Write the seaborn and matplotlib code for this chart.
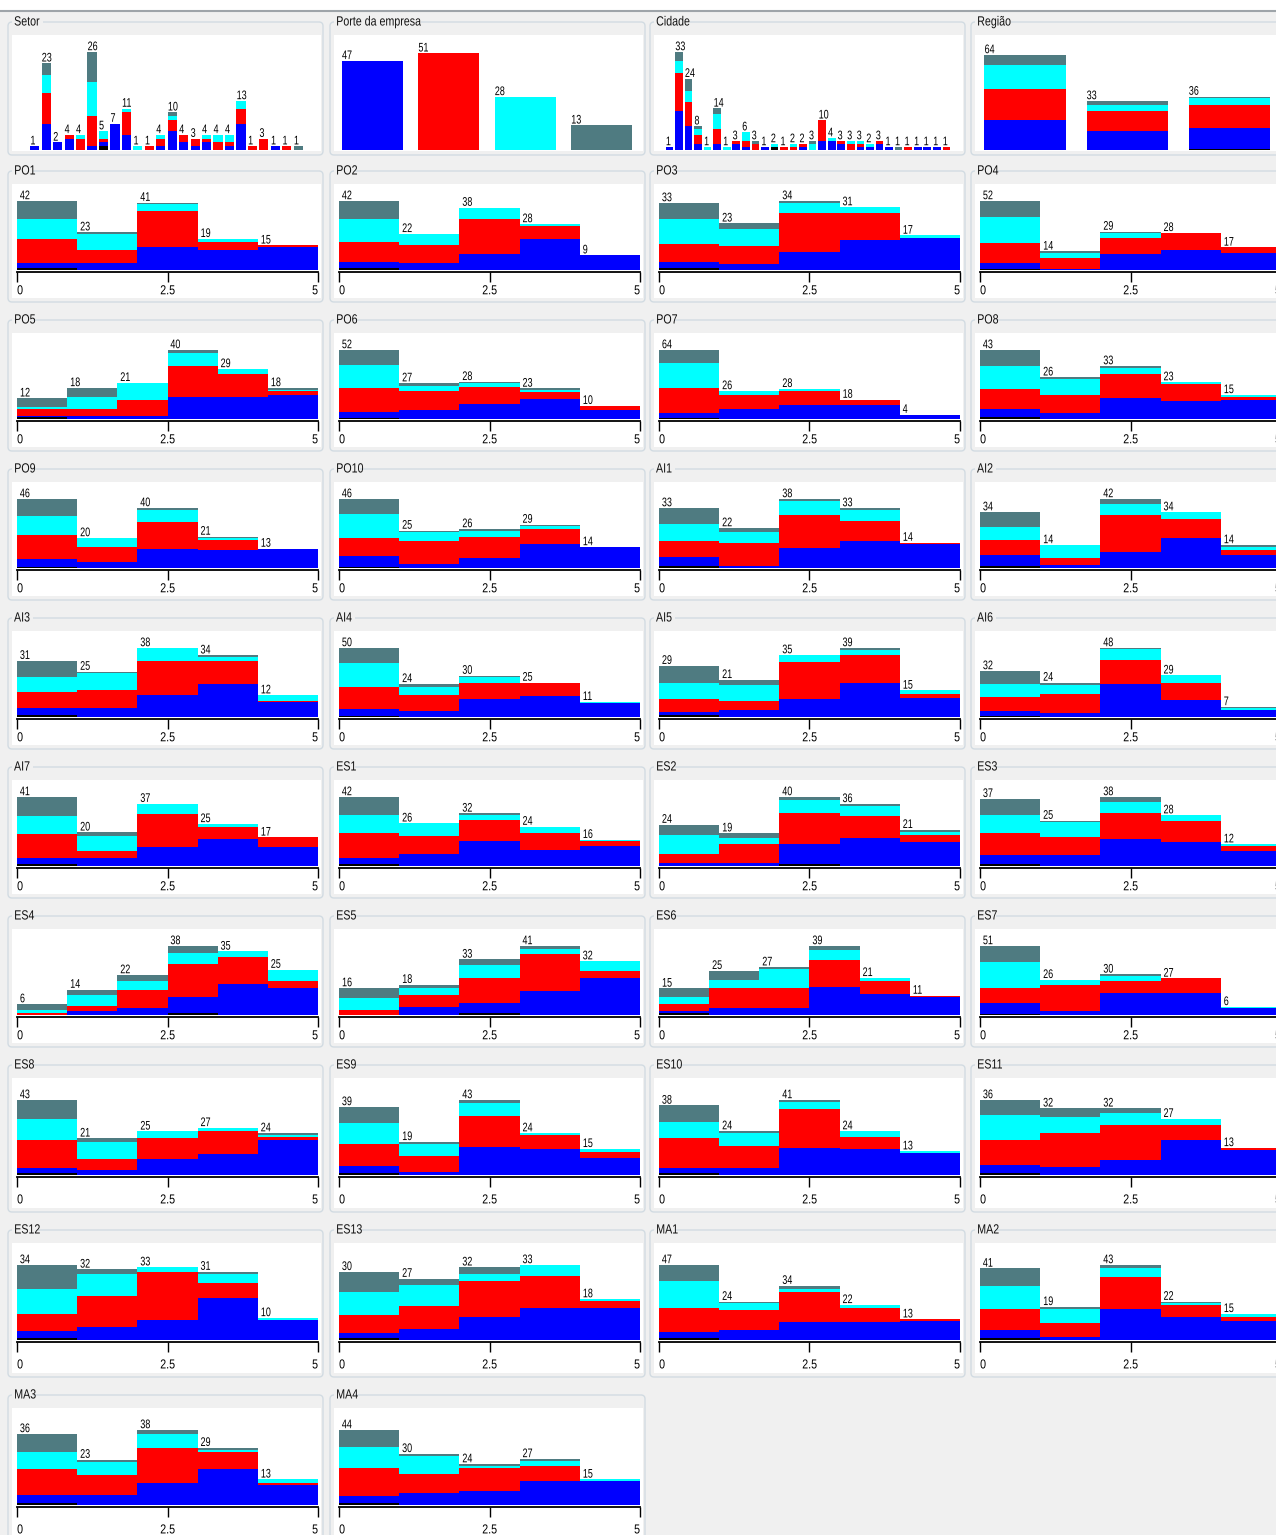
import numpy as np
import pandas as pd
import matplotlib
matplotlib.use("Agg")
import matplotlib.pyplot as plt
from matplotlib.patches import FancyBboxPatch, Rectangle
from matplotlib.patheffects import AbstractPathEffect
from matplotlib.transforms import Affine2D
import seaborn as sns

# ---------------------------------------------------------------------------
# Counts per bar, split by "Porte da empresa" class:
#   (blue, red, cyan, gray, black)   black = missing class
# ---------------------------------------------------------------------------
SETOR = [(1, 0, 0, 0, 0), (7, 8, 5, 3, 0), (2, 0, 0, 0, 0), (3, 1, 0, 0, 0),
         (0, 3, 1, 0, 0), (1, 8, 9, 8, 0), (1, 1, 2, 0, 1), (7, 0, 0, 0, 0),
         (4, 6, 1, 0, 0), (0, 0, 1, 0, 0), (0, 1, 0, 0, 0), (1, 2, 1, 0, 0),
         (5, 3, 1, 1, 0), (2, 2, 0, 0, 0), (1, 2, 0, 0, 0), (2, 1, 1, 0, 0),
         (0, 2, 2, 0, 0), (1, 1, 2, 0, 0), (7, 4, 2, 0, 0), (0, 1, 0, 0, 0),
         (0, 3, 0, 0, 0), (1, 0, 0, 0, 0), (0, 1, 0, 0, 0), (0, 0, 0, 1, 0)]
PORTE = [(47, 0, 0, 0, 0), (0, 51, 0, 0, 0), (0, 0, 28, 0, 0), (0, 0, 0, 13, 0)]
CIDADE = [(1, 0, 0, 0, 0), (13, 13, 4, 3, 0), (8, 8, 4, 4, 0), (2, 3, 2, 1, 0),
          (0, 0, 1, 0, 0), (2, 5, 5, 2, 0), (0, 0, 1, 0, 0), (2, 1, 0, 0, 0),
          (1, 2, 3, 0, 0), (0, 2, 0, 1, 0), (1, 0, 0, 0, 0), (0, 0, 1, 0, 1),
          (0, 1, 0, 0, 0), (0, 1, 1, 0, 0), (1, 1, 0, 0, 0), (0, 0, 2, 1, 0),
          (3, 7, 0, 0, 0), (3, 0, 1, 0, 0), (2, 1, 0, 0, 0), (0, 2, 1, 0, 0),
          (1, 1, 1, 0, 0), (1, 0, 1, 0, 0), (2, 1, 0, 0, 0), (1, 0, 0, 0, 0),
          (0, 0, 0, 1, 0), (0, 1, 0, 0, 0), (1, 0, 0, 0, 0), (1, 0, 0, 0, 0),
          (1, 0, 0, 0, 0), (0, 1, 0, 0, 0)]
REGIAO = [(20, 21, 16, 7, 0), (13, 13, 4, 3, 0), (14, 15, 5, 1, 1)]

PO1 = [(3, 15, 12, 11, 1), (4, 8, 10, 1, 0), (14, 22, 4, 1, 0), (12, 5, 2, 0, 0), (14, 1, 0, 0, 0)]
PO2 = [(4, 12, 14, 11, 1), (4, 11, 7, 0, 0), (10, 21, 7, 0, 0), (19, 8, 1, 0, 0), (9, 0, 0, 0, 0)]
PO3 = [(3, 9, 12, 8, 1), (3, 9, 8, 3, 0), (9, 19, 5, 1, 0), (15, 13, 3, 0, 0), (16, 0, 1, 0, 0)]
PO4 = [(4, 15, 20, 12, 1), (1, 8, 4, 1, 0), (12, 12, 4, 1, 0), (15, 13, 0, 0, 0), (13, 4, 0, 0, 0)]
PO5 = [(1, 4, 1, 5, 1), (2, 4, 7, 5, 0), (2, 9, 10, 0, 0), (13, 18, 7, 2, 0), (13, 13, 3, 0, 0), (14, 2, 1, 1, 0)]
PO6 = [(4, 18, 18, 11, 1), (7, 14, 4, 2, 0), (11, 13, 3, 1, 0), (15, 5, 2, 1, 0), (7, 3, 0, 0, 0)]
PO7 = [(5, 23, 23, 12, 1), (9, 13, 4, 0, 0), (13, 13, 2, 0, 0), (13, 5, 0, 0, 0), (4, 0, 0, 0, 0)]
PO8 = [(5, 13, 14, 10, 1), (4, 11, 10, 1, 0), (13, 15, 4, 1, 0), (11, 11, 1, 0, 0), (12, 2, 1, 0, 0)]
PO9 = [(5, 16, 13, 11, 1), (4, 10, 6, 0, 0), (13, 18, 8, 1, 0), (12, 7, 1, 1, 0), (13, 0, 0, 0, 0)]
PO10 = [(7, 12, 16, 10, 1), (3, 15, 6, 1, 0), (7, 14, 4, 1, 0), (16, 10, 2, 1, 0), (14, 0, 0, 0, 0)]
AI1 = [(5, 9, 9, 9, 1), (1, 13, 6, 2, 0), (11, 18, 8, 1, 0), (15, 11, 6, 1, 0), (13, 1, 0, 0, 0)]
AI2 = [(7, 9, 8, 9, 1), (2, 4, 8, 0, 0), (10, 22, 7, 3, 0), (18, 12, 4, 0, 0), (8, 3, 2, 1, 0)]
AI3 = [(4, 9, 8, 9, 1), (5, 10, 9, 1, 0), (12, 19, 7, 0, 0), (18, 13, 2, 1, 0), (8, 1, 3, 0, 0)]
AI4 = [(5, 16, 17, 11, 1), (4, 12, 6, 2, 0), (13, 12, 4, 1, 0), (15, 10, 0, 0, 0), (10, 0, 1, 0, 0)]
AI5 = [(2, 7, 9, 10, 1), (4, 5, 9, 3, 0), (10, 21, 4, 0, 0), (19, 16, 3, 1, 0), (11, 2, 2, 0, 0)]
AI6 = [(3, 10, 9, 9, 1), (3, 13, 6, 2, 0), (23, 17, 7, 1, 0), (12, 12, 5, 0, 0), (5, 0, 1, 1, 0)]
AI7 = [(4, 14, 11, 11, 1), (5, 4, 9, 2, 0), (11, 20, 6, 0, 0), (16, 7, 2, 0, 0), (11, 6, 0, 0, 0)]
ES1 = [(4, 15, 11, 11, 1), (7, 11, 8, 0, 0), (15, 13, 3, 1, 0), (10, 10, 4, 0, 0), (12, 3, 1, 0, 0)]
ES2 = [(2, 5, 11, 6, 0), (2, 11, 3, 3, 0), (12, 18, 7, 2, 1), (16, 13, 6, 1, 0), (14, 4, 2, 1, 0)]
ES3 = [(5, 12, 10, 9, 1), (6, 10, 8, 1, 0), (15, 14, 6, 3, 0), (13, 12, 3, 0, 0), (8, 3, 1, 0, 0)]
ES4 = [(0, 1, 2, 3, 0), (2, 3, 6, 3, 0), (4, 10, 5, 3, 0), (9, 18, 6, 4, 1), (17, 15, 3, 0, 0), (15, 4, 6, 0, 0)]
ES5 = [(0, 3, 7, 6, 0), (5, 7, 4, 2, 0), (6, 15, 8, 3, 1), (14, 22, 3, 2, 0), (22, 4, 6, 0, 0)]
ES6 = [(1, 4, 4, 5, 1), (4, 11, 5, 5, 0), (4, 11, 11, 1, 0), (16, 15, 6, 2, 0), (12, 7, 2, 0, 0), (10, 1, 0, 0, 0)]
ES7 = [(8, 11, 19, 12, 1), (3, 19, 4, 0, 0), (16, 9, 4, 1, 0), (16, 11, 0, 0, 0), (5, 0, 1, 0, 0)]
ES8 = [(3, 16, 12, 11, 1), (3, 6, 10, 2, 0), (9, 12, 4, 0, 0), (12, 13, 2, 0, 0), (20, 2, 1, 1, 0)]
ES9 = [(4, 13, 12, 9, 1), (2, 9, 7, 1, 0), (16, 18, 7, 2, 0), (15, 8, 1, 0, 0), (10, 3, 2, 0, 0)]
ES10 = [(3, 16, 9, 9, 1), (4, 12, 7, 1, 0), (15, 21, 4, 1, 0), (14, 7, 3, 0, 0), (12, 0, 1, 0, 0)]
ES11 = [(4, 12, 12, 7, 1), (4, 16, 8, 4, 0), (7, 17, 6, 2, 0), (17, 7, 3, 0, 0), (12, 1, 0, 0, 0)]
ES12 = [(3, 8, 11, 11, 1), (6, 14, 10, 2, 0), (9, 22, 2, 0, 0), (19, 7, 4, 1, 0), (9, 0, 1, 0, 0)]
ES13 = [(2, 8, 10, 9, 1), (5, 10, 9, 3, 0), (10, 16, 3, 3, 0), (14, 14, 5, 0, 0), (14, 3, 1, 0, 0)]
MA1 = [(4, 15, 17, 10, 1), (6, 13, 4, 1, 0), (11, 19, 2, 2, 0), (11, 9, 2, 0, 0), (12, 1, 0, 0, 0)]
MA2 = [(5, 12, 13, 10, 1), (2, 8, 8, 1, 0), (18, 18, 5, 2, 0), (13, 7, 1, 1, 0), (11, 2, 2, 0, 0)]
MA3 = [(4, 13, 9, 9, 1), (5, 10, 7, 1, 0), (11, 18, 7, 2, 0), (18, 9, 1, 1, 0), (10, 1, 2, 0, 0)]
MA4 = [(4, 17, 12, 10, 1), (7, 11, 11, 1, 0), (8, 14, 1, 1, 0), (14, 9, 3, 1, 0), (14, 0, 1, 0, 0)]

TOP_ROW = [("Setor", SETOR), ("Porte da empresa", PORTE), ("Cidade", CIDADE), ("Região", REGIAO)]
GRID = [
    [("PO1", PO1), ("PO2", PO2), ("PO3", PO3), ("PO4", PO4)],
    [("PO5", PO5), ("PO6", PO6), ("PO7", PO7), ("PO8", PO8)],
    [("PO9", PO9), ("PO10", PO10), ("AI1", AI1), ("AI2", AI2)],
    [("AI3", AI3), ("AI4", AI4), ("AI5", AI5), ("AI6", AI6)],
    [("AI7", AI7), ("ES1", ES1), ("ES2", ES2), ("ES3", ES3)],
    [("ES4", ES4), ("ES5", ES5), ("ES6", ES6), ("ES7", ES7)],
    [("ES8", ES8), ("ES9", ES9), ("ES10", ES10), ("ES11", ES11)],
    [("ES12", ES12), ("ES13", ES13), ("MA1", MA1), ("MA2", MA2)],
    [("MA3", MA3), ("MA4", MA4)],
]

CLASS_KEYS = ["blue", "red", "cyan", "gray", "black"]
# first level is stacked on top by seaborn
HUE_ORDER = ["gray", "cyan", "red", "blue", "black"]
PALETTE = {"blue": "#0000ff", "red": "#ff0000", "cyan": "#00ffff",
           "gray": "#4f7b81", "black": "#000000"}


class Squeeze(AbstractPathEffect):
    """Draw glyphs horizontally condensed around an anchor (0 left, 0.5 centre, 1 right)."""

    def __init__(self, sx=0.75, anchor=0.0):
        super().__init__()
        self.sx = sx
        self.anchor = anchor

    def draw_path(self, renderer, gc, tpath, affine, rgbFace=None):
        ext = tpath.get_extents()
        x0 = ext.x0 + self.anchor * ext.width
        squeeze = Affine2D().translate(-x0, 0).scale(self.sx, 1.0).translate(x0, 0)
        renderer.draw_path(gc, tpath, squeeze + affine, rgbFace)


# ---------------------------------------------------------------------------
sns.set_theme(style="white")
plt.rcParams["font.family"] = ["Liberation Sans", "DejaVu Sans"]

COUNT_FS, COUNT_SX = 9.0, 0.72
TITLE_FS, TITLE_SX = 9.6, 0.80
TICK_FS, TICK_SX = 9.4, 0.82

W, H = 1276, 1535
BG = "#f0f0f0"
fig = plt.figure(figsize=(W / 100, H / 100), dpi=100)
fig.patch.set_facecolor(BG)

bg = fig.add_axes([0, 0, 1, 1])
bg.set_xlim(0, W)
bg.set_ylim(H, 0)
bg.axis("off")
bg.add_patch(Rectangle((0, 0), W, 10, facecolor="white", edgecolor="none"))
bg.plot([0, W], [10.5, 10.5], color="#9ea4a9", lw=1.5)

FRAME_X = [8, 330, 650, 971]
FRAME_W = 315
TITLE_Y = [22, 171, 320, 469, 618, 767, 916, 1065, 1230, 1395]


def long_frame(bars, centers):
    rows = []
    for c, seg in zip(centers, bars):
        for cls, v in zip(CLASS_KEYS, seg):
            rows.append((c, cls, v))
    return pd.DataFrame(rows, columns=["x", "cls", "n"])


def draw_frame(x0, top, bottom, title):
    bg.add_patch(FancyBboxPatch((x0, top), FRAME_W, bottom - top,
                                boxstyle="round,pad=0,rounding_size=4",
                                facecolor=BG, edgecolor="#d2dbe2", lw=1.0))
    bg.add_patch(Rectangle((x0 + 4, top + 13), FRAME_W - 6, bottom - 4 - (top + 13),
                           facecolor="white", edgecolor="none"))
    # gap in the border line behind the title
    width = 2 + len(title) * 6.3 * TITLE_SX + 4
    bg.add_patch(Rectangle((x0 + 4, top - 2), width, 4, facecolor=BG, edgecolor="none"))
    bg.text(x0 + 6, top + 0.5, title, va="center", ha="left", fontsize=TITLE_FS,
            color="#111111", path_effects=[Squeeze(TITLE_SX, 0.0)])


def stacked(ax, bars, edges, shrink):
    centers = (edges[:-1] + edges[1:]) / 2
    df = long_frame(bars, centers)
    sns.histplot(data=df, x="x", weights="n", hue="cls", hue_order=HUE_ORDER,
                 palette=PALETTE, multiple="stack", bins=[float(e) for e in edges],
                 shrink=shrink, element="bars", linewidth=0, alpha=1,
                 legend=False, ax=ax)
    ax.set_xlabel("")
    ax.set_ylabel("")
    ax.patch.set_visible(False)


def count_label(ax, x, t, dx):
    ax.annotate(str(t), (x, t), xytext=(dx, 1.3), textcoords="offset points",
                ha="left", va="baseline", fontsize=COUNT_FS, color="black",
                annotation_clip=False, path_effects=[Squeeze(COUNT_SX, 0.0)])


def cat_panel(bars, left, right, baseline, maxtop):
    n = len(bars)
    ax = fig.add_axes([left / W, 1 - baseline / H, (right - left) / W, (baseline - maxtop) / H])
    edges = np.arange(n + 1) - 0.5
    stacked(ax, bars, edges, 0.8)
    totals = [sum(b) for b in bars]
    ax.set_xlim(-0.5, n - 0.5)
    ax.set_ylim(0, max(totals))
    for i, t in enumerate(totals):
        count_label(ax, i - 0.4, t, 0.0)
    ax.axis("off")


def hist_panel(bars, x0, baseline, maxtop, tall):
    n = len(bars)
    ax = fig.add_axes([x0 / W, 1 - baseline / H, 301 / W, (baseline - maxtop) / H])
    edges = np.linspace(0, 5, n + 1)
    stacked(ax, bars, edges, 1.0)
    totals = [sum(b) for b in bars]
    ax.set_xlim(0, 5)
    ax.set_ylim(0, max(totals))
    for left, t in zip(edges[:-1], totals):
        count_label(ax, left, t, 2.0)
    for s in ("top", "right", "left"):
        ax.spines[s].set_visible(False)
    ax.spines["bottom"].set_position(("outward", 1.5))
    ax.spines["bottom"].set_color("black")
    ax.spines["bottom"].set_linewidth(1.3)
    ax.set_yticks([])
    ax.set_xticks([0, 2.5, 5])
    ax.set_xticklabels(["0", "2.5", "5"])
    ax.tick_params(axis="x", bottom=True, direction="out", length=7, width=1,
                   pad=5.5 if tall else 2.5, labelsize=TICK_FS, colors="black")
    for lab, ha, anchor in zip(ax.get_xticklabels(), ["left", "center", "right"], [0.0, 0.5, 1.0]):
        lab.set_ha(ha)
        lab.set_path_effects([Squeeze(TICK_SX, anchor)])


# top row: nominal attributes
top = TITLE_Y[0]
cat_geom = [(29, 304, 52), (334.3, 639.7, 53.3), (664.7, 951.1, 52), (974.2, 1280.6, 55)]
for c, ((title, bars), (l, r, mt)) in enumerate(zip(TOP_ROW, cat_geom)):
    draw_frame(FRAME_X[c], top, 155, title)
    cat_panel(bars, l, r, 150, mt)

# remaining rows: numeric attributes on a 0-5 scale
for r, row in enumerate(GRID, start=1):
    t = TITLE_Y[r]
    tall = r >= 7
    bottom = t + (147 if tall else 131)
    if r == 9:
        bottom = H + 40
    baseline = t + (110 if tall else 99)
    maxtop = t + (35 if tall else 30)
    for c, (title, bars) in enumerate(row):
        draw_frame(FRAME_X[c], t, bottom, title)
        hist_panel(bars, FRAME_X[c] + 9, baseline, maxtop, tall)

fig.savefig("out.png", dpi=100, facecolor=fig.get_facecolor())
